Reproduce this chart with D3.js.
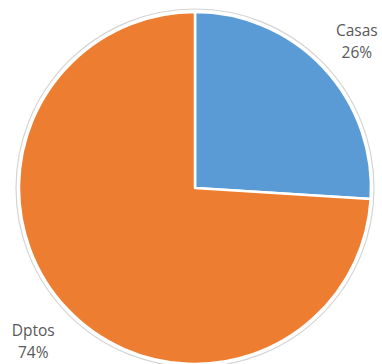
<!DOCTYPE html>
<html>
<head>
<meta charset="utf-8">
<script src="https://cdn.jsdelivr.net/npm/d3@7"></script>
<style>
  html, body { margin: 0; padding: 0; background: #fff; }
  svg { display: block; }
</style>
</head>
<body>
<svg id="chart" width="382" height="364"></svg>
<script>
// Housing type shares
const categories = ["Casas", "Dptos"];
const shares = [26, 74];
const colors = ["#5B9BD5", "#ED7D31"];

const width = 382, height = 364;
const cx = 195, cy = 188, radius = 176;

const svg = d3.select("#chart");
const g = svg.append("g").attr("transform", `translate(${cx},${cy})`);

const data = categories.map((c, i) => ({ name: c, value: shares[i], color: colors[i] }));

const pie = d3.pie().sort(null).value(d => d.value);
const arcs = pie(data);

const arc = d3.arc().innerRadius(0).outerRadius(radius);

// faint outline around the pie
g.append("circle")
  .attr("r", radius + 3)
  .attr("fill", "none")
  .attr("stroke", "#d4d4d4")
  .attr("stroke-width", 1.2);

g.selectAll("path.slice")
  .data(arcs)
  .enter().append("path")
  .attr("class", "slice")
  .attr("d", arc)
  .attr("fill", d => d.data.color)
  .attr("stroke", "#fff")
  .attr("stroke-width", 2.5)
  .attr("stroke-linejoin", "round");

// outside labels: category name and percentage
const labelArc = d3.arc().innerRadius(222).outerRadius(222);
const fmt = v => `${v}%`;

const labels = g.selectAll("text.lbl")
  .data(arcs)
  .enter().append("text")
  .attr("class", "lbl")
  .attr("text-anchor", "middle")
  .attr("font-family", "'Open Sans', sans-serif")
  .attr("font-size", "15.5px")
  .attr("fill", "#595959")
  .attr("transform", d => {
    const [x, y] = labelArc.centroid(d);
    return `translate(${x},${y})`;
  });

labels.append("tspan")
  .attr("x", 0)
  .attr("y", d => d.data.name === "Dptos" ? -4 : 0)
  .text(d => d.data.name);

labels.append("tspan")
  .attr("x", 0)
  .attr("y", d => d.data.name === "Dptos" ? 18 : 22)
  .text(d => fmt(d.data.value));
</script>
</body>
</html>
